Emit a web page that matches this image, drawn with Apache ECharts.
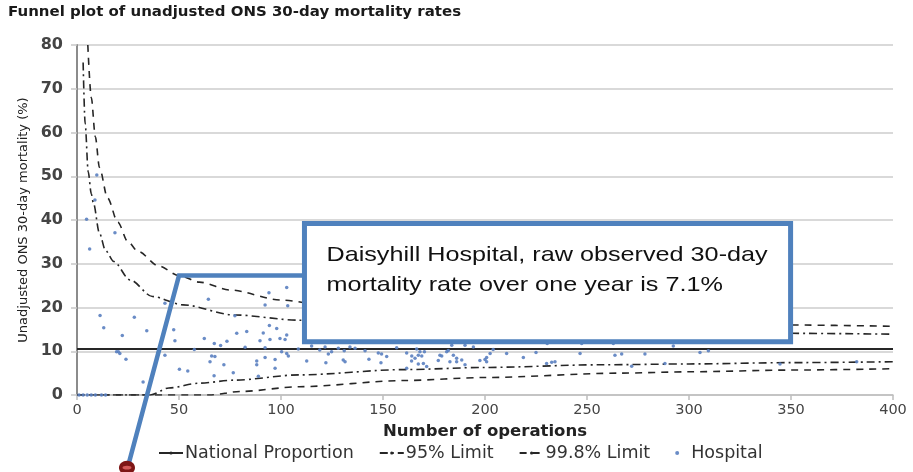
<!DOCTYPE html>
<html>
<head>
<meta charset="utf-8">
<script src="https://cdn.jsdelivr.net/npm/echarts@6/dist/echarts.min.js"></script>
<style>
html,body{margin:0;padding:0;background:#fff;}
#chart{width:913px;height:472px;}
</style>
</head>
<body>
<div id="chart"></div>
<script>
// ---- data ----
const xTicks = [0, 50, 100, 150, 200, 250, 300, 350, 400];
const yTicks = [0, 10, 20, 30, 40, 50, 60, 70, 80];
const nationalProportion = 10.5;
const nationalRange = [0, 400];

const upper95 = [[3,76],[4,62],[5.5,51],[7,46],[8,44],[11,37],[14,33],[18,30.5],[26,26.3],[37,22.5],[52,20.6],[77,18.3],[109,17.1],[150,15.9],[200,15.0],[250,14.6],[300,14.3],[350,14.1],[400,13.9]];
const lower95 = [[0,0],[36,0],[45,1.6],[60,2.7],[77,3.4],[109,4.6],[160,5.8],[200,6.3],[256,6.9],[300,7.1],[350,7.4],[400,7.6]];
const upper998 = [[5.3,80],[7,68],[9,59],[11,52],[15,45],[20,39.5],[25,35],[30,32.8],[40,29.5],[50,27.3],[60,25.8],[75,24],[100,21.7],[125,20.3],[150,19.3],[200,17.9],[250,17],[300,16.4],[350,16],[400,15.7]];
const lower998 = [[0,0],[65,0],[80,0.8],[109,1.9],[160,3.3],[200,4.0],[266,5.0],[300,5.3],[350,5.7],[400,6.0]];

const hospitalOps = [1,3,5,7,9,12,14,4.7,6.2,8.8,9.7,11.3,13.1,18.6,19.4,20.3,21,24,22.2,28.1,34.2,32.4,43.1,47.4,48,43.1,50.2,54.3,57.5,62.4,64.4,65.2,66,67.6,67.3,67.2,70.4,72,73.5,76.6,77.4,78.3,82.4,83.2,88.1,88.9,88.1,89.7,91.3,92.2,92.2,92.2,94.1,94.3,94.6,97.1,97.1,97.9,99.5,100.3,102.8,103.3,102.8,102,102.8,103.6,108.5,112.6,115,119,121.6,122,123.2,124.8,128.1,130.5,131,131.4,133.8,136.3,141.2,143.1,147.7,149.3,149,151.8,156.7,161.6,161.6,164,164.1,165.7,166.5,167.3,167.3,168.1,169,169.8,170.3,171.4,177.1,177.9,178.8,181.2,182,182.8,183.7,184.5,186.1,186.1,188.6,190.2,190.2,194.3,197.5,200,200.8,200.8,202.5,204,210.6,218.8,225,230.2,230.5,232.7,234.3,246.6,247.4,262.9,263.7,267,271.9,278.4,288.2,292.3,305.4,309.5,344.6,382.2];
const hospitalRate = [0,0,0,0,0,0,0,40.2,33.4,44.6,50.3,18.2,15.4,37.1,9.9,9.9,9.5,8.2,13.6,17.8,14.7,3.0,21.0,14.9,12.4,9.1,5.9,5.5,10.4,12.9,21.9,7.6,8.9,8.8,11.8,4.4,11.3,6.9,12.3,5.1,18.1,14.1,10.9,14.5,7.8,4.3,6.9,12.4,14.2,20.6,8.6,10.8,23.4,15.9,12.7,8.1,6.1,15.2,12.9,9.9,24.6,20.4,13.7,12.7,9.5,8.9,10.5,7.8,11.2,10.3,11.0,7.4,9.4,9.9,10.7,8.0,10.1,7.6,11.0,10.7,10.1,8.2,9.6,9.4,7.4,8.8,10.8,9.6,6.1,7.8,8.9,8.4,10.5,9.1,7.1,9.9,8.9,7.2,9.9,6.5,7.9,9.1,8.9,9.9,10.2,7.6,11.4,9.1,8.4,7.6,8.0,6.9,11.4,11.0,7.9,8.1,8.6,7.6,9.5,10.4,9.5,8.6,9.7,7.2,11.8,7.5,7.6,9.5,11.8,11.8,9.1,9.4,6.6,9.4,7.2,11.2,9.7,10.1,7.1,7.6];

const titleText = 'Funnel plot of unadjusted ONS 30-day mortality rates';
const noteLines = ['Daisyhill Hospital, raw observed 30-day', 'mortality rate over one year is 7.1%'];

// ---- chart ----
const chart = echarts.init(document.getElementById('chart'), null, {renderer: 'canvas'});
const hospitalData = hospitalOps.map((n, i) => [n, hospitalRate[i]]);
const lineColor = '#262626';
const dashDot = [8, 4, 2, 4];
const dashed = [7, 6];
const font = 'DejaVu Sans';

const option = {
  backgroundColor: '#ffffff',
  animation: false,
  grid: {left: 77, right: 20, top: 45, bottom: 77, containLabel: false},
  xAxis: {
    type: 'value', min: 0, max: 400, interval: 50,
    name: 'Number of operations', nameLocation: 'middle', nameGap: 21,
    nameTextStyle: {fontFamily: font, fontWeight: 'bold', fontSize: 16.5, color: '#222'},
    axisLine: {show: true, lineStyle: {color: '#bdbdbd', width: 1.5}},
    axisTick: {show: true, length: 5, lineStyle: {color: '#bdbdbd', width: 1.5}},
    axisLabel: {fontFamily: font, fontSize: 14.5, color: '#444', margin: 8},
    splitLine: {show: false}
  },
  yAxis: {
    type: 'value', min: 0, max: 80, interval: 10,
    name: 'Unadjusted ONS 30-day mortality (%)', nameLocation: 'middle', nameGap: 31,
    nameTextStyle: {fontFamily: font, fontSize: 13, color: '#222'},
    axisLine: {show: true, lineStyle: {color: '#8c8c8c', width: 2}},
    axisTick: {show: true, length: 6, lineStyle: {color: '#c8c8c8', width: 1.5}},
    axisLabel: {fontFamily: font, fontWeight: 'bold', fontSize: 16, color: '#444', margin: 14},
    splitLine: {show: true, lineStyle: {color: '#cccccc', width: 1.5}}
  },
  legend: {
    left: 153, top: 439, itemWidth: 24, itemHeight: 4, itemGap: 25,
    textStyle: {fontFamily: font, fontSize: 17.5, color: '#333', padding: [0, 0, 0, -3]},
    data: [
      {name: 'National Proportion'},
      {name: '95% Limit'},
      {name: '99.8% Limit'},
      {name: 'Hospital', icon: 'circle'}
    ]
  },
  series: [
    {name: 'National Proportion', type: 'line', data: nationalRange.map(n => [n, nationalProportion]), symbol: 'none', lineStyle: {color: lineColor, width: 2}, itemStyle: {color: lineColor}, z: 3},
    {name: '95% Limit', type: 'line', data: upper95, symbol: 'none', smooth: 0.3, smoothMonotone: 'x', lineStyle: {color: lineColor, width: 1.6, type: dashDot}, itemStyle: {color: lineColor}, z: 3},
    {name: '95% Limit', type: 'line', data: lower95, symbol: 'none', smooth: 0.3, smoothMonotone: 'x', lineStyle: {color: lineColor, width: 1.6, type: dashDot}, itemStyle: {color: lineColor}, z: 3},
    {name: '99.8% Limit', type: 'line', data: upper998, symbol: 'none', smooth: 0.3, smoothMonotone: 'x', lineStyle: {color: lineColor, width: 1.6, type: dashed}, itemStyle: {color: lineColor}, z: 3},
    {name: '99.8% Limit', type: 'line', data: lower998, symbol: 'none', smooth: 0.3, smoothMonotone: 'x', lineStyle: {color: lineColor, width: 1.6, type: dashed}, itemStyle: {color: lineColor}, z: 3},
    {name: 'Hospital', type: 'scatter', data: hospitalData, symbolSize: 3.5, itemStyle: {color: '#5a80c0', opacity: 0.9}, z: 4}
  ]
};
chart.setOption(option);

// ---- annotation (box, pointer, marker) placed through the chart's own scales ----
const px = p => chart.convertToPixel({gridIndex: 0}, p);
const corner = px([50, 27.3]);
const boxTL = px([111.5, 39.2]);
const boxBR = px([349.8, 12.2]);
const marker = px([24.5, -16.6]);
const blue = '#4f81bd';
chart.setOption({
  graphic: [
    {type: 'text', x: 8, y: 5, z: 50, scaleX: 1.07, originX: 0,
     style: {text: titleText, font: 'bold 14px "DejaVu Sans"', fill: '#1a1a1a'}},
    {type: 'polyline', z: 40, shape: {points: [[boxTL[0], corner[1]], corner, [marker[0] + 2, marker[1] - 5]]},
     style: {stroke: blue, lineWidth: 4.5, fill: null}},
    {type: 'rect', z: 41, shape: {x: boxTL[0], y: boxTL[1], width: boxBR[0] - boxTL[0], height: boxBR[1] - boxTL[1]},
     style: {fill: '#ffffff', stroke: blue, lineWidth: 5}},
    {type: 'text', z: 42, x: boxTL[0] + 22, y: boxTL[1] + 17,
     style: {text: noteLines.join('\n'), font: '21px "Liberation Sans"', fill: '#111', lineHeight: 30}, scaleX: 1.2, originX: 0},
    {type: 'ellipse', z: 43, shape: {cx: marker[0], cy: marker[1], rx: 8, ry: 7}, style: {fill: '#7e1616'}},
    {type: 'ellipse', z: 44, shape: {cx: marker[0], cy: marker[1], rx: 4.5, ry: 1.8}, style: {fill: '#d45a5a'}}
  ]
});
</script>
</body>
</html>
